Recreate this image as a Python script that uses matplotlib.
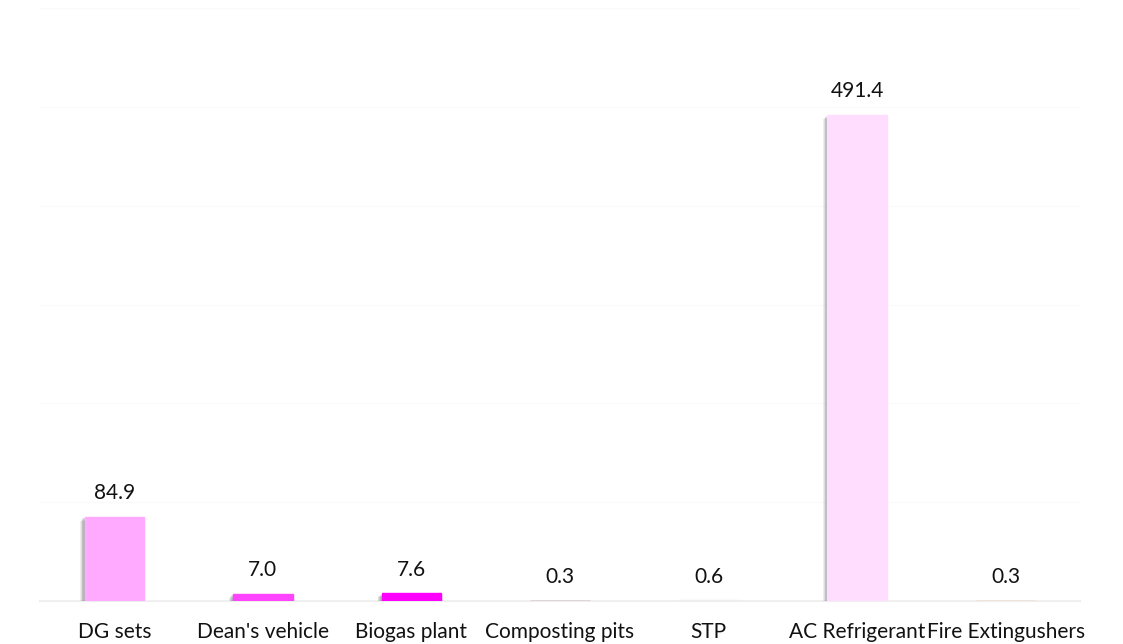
import matplotlib.pyplot as plt
import matplotlib.patheffects as pe

categories = ["DG sets", "Dean's vehicle", "Biogas plant", "Composting pits",
              "STP", "AC Refrigerant", "Fire Extingushers"]
emissions = [84.9, 7.0, 7.6, 0.3, 0.6, 491.4, 0.3]
bar_colors = ["#FFAAFF", "#FF44FF", "#FF00FF", "#A0608A",
              "#EEEEEE", "#FFDDFF", "#F4B183"]

plt.rcParams['font.family'] = ['Lato', 'DejaVu Sans']

fig = plt.figure(figsize=(11.23, 6.44), dpi=100)
ax = fig.add_axes([40 / 1123, 43 / 644, 1040 / 1123, 593 / 644])

x = range(len(categories))
bars = ax.bar(x, emissions, width=0.4, color=bar_colors, edgecolor=bar_colors,
              linewidth=1.0, zorder=3)

# soft drop shadow built from a few faint offset copies
shadow = [pe.SimplePatchShadow(offset=off, shadow_rgbFace='#404040', alpha=0.09)
          for off in [(-3, -2.5), (-2.5, -2), (-2, -1.5), (-1.5, -1), (-1, -1), (1, -1.5)]]
for b in bars:
    b.set_path_effects(shadow + [pe.Normal()])

for xi, v in zip(x, emissions):
    ax.annotate(f"{v:.1f}", (xi, v), xytext=(0, 10), textcoords='offset points',
                ha='center', va='bottom', fontsize=15, color='#111111')

ax.set_xlim(-0.5, len(categories) - 0.5)
ax.set_ylim(0, 600)
ax.set_yticks(range(0, 601, 100))
ax.yaxis.grid(True, color='#FAFAFA', linewidth=1, zorder=0)
ax.set_yticklabels([])
ax.tick_params(axis='y', length=0)
ax.tick_params(axis='x', length=0, pad=15, labelsize=15, labelcolor='#111111')
ax.set_xticks(list(x))
ax.set_xticklabels(categories)

for side in ['top', 'left', 'right']:
    ax.spines[side].set_visible(False)
ax.spines['bottom'].set_color('#EEEEEE')
ax.spines['bottom'].set_linewidth(1.5)
ax.spines['bottom'].set_zorder(1)

fig.savefig("out.png", dpi=100)
